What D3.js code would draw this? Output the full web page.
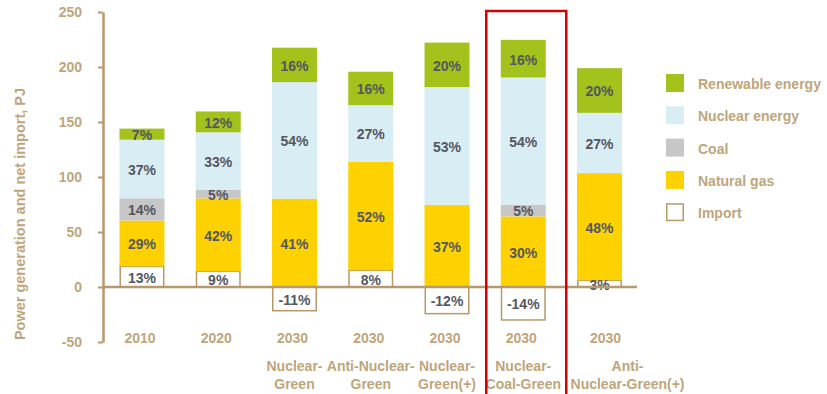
<!DOCTYPE html>
<html>
<head>
<meta charset="utf-8">
<script src="https://cdn.jsdelivr.net/npm/d3@7"></script>
<style>
  html, body { margin: 0; padding: 0; background: #fff; }
  svg { display: block; font-family: "Liberation Sans", Arial, sans-serif; font-weight: bold; }
</style>
</head>
<body>
<svg id="chart" width="827" height="394"></svg>
<script>
// Power generation mix and net import per scenario (shares of net total, %)
const years = ["2010", "2020", "2030", "2030", "2030", "2030", "2030"];
const scenarioNames = [
  [], [],
  ["Nuclear-", "Green"],
  ["Anti-Nuclear-", "Green"],
  ["Nuclear-", "Green(+)"],
  ["Nuclear-", "Coal-Green"],
  ["Anti-", "Nuclear-Green(+)"]
];
// Net total (generation + import), PJ
const totals = [144, 158, 196, 190, 202, 214, 203];
const importPct = [13, 9, -11, 8, -12, -14, 3];
const gasPct = [29, 42, 41, 52, 37, 30, 48];
const coalPct = [14, 5, 0, 0, 0, 5, 0];
const nuclearPct = [37, 33, 54, 27, 53, 54, 27];
const renewablePct = [7, 12, 16, 16, 20, 16, 20];
const yTicks = [-50, 0, 50, 100, 150, 200, 250];
const legendLabels = ["Renewable energy", "Nuclear energy", "Coal", "Natural gas", "Import"];
const highlighted = 5;

const tan = "#bfa57b";
const axisTan = "#b7996c";
const labelInk = "#54575f";
const colors = {
  renewable: "#a3c21c",
  nuclear: "#d9edf4",
  coal: "#c7c7c7",
  gas: "#fdd200",
  import: "#ffffff"
};

const svg = d3.select("#chart");
const ids = years.map((_, i) => i);

const x = d3.scaleBand().domain(ids).range([103, 638.5])
  .paddingInner(0.41).paddingOuter(0.216);
const y = d3.scaleLinear().domain([-50, 250]).range([342, 12]);

// Build stacked segments for each column
const segments = [];
ids.forEach(i => {
  const T = totals[i];
  const imp = importPct[i] * T / 100;
  segments.push({ i, key: "import", y0: Math.min(0, imp), y1: Math.max(0, imp), pct: importPct[i] });
  let base = Math.max(0, imp);
  [["gas", gasPct], ["coal", coalPct], ["nuclear", nuclearPct], ["renewable", renewablePct]].forEach(([key, arr]) => {
    const v = arr[i] * T / 100;
    segments.push({ i, key, y0: base, y1: base + v, pct: arr[i] });
    base += v;
  });
});
const drawn = segments.filter(d => d.pct !== 0);

// Bars
svg.append("g").selectAll("rect").data(drawn).join("rect")
  .attr("x", d => x(d.i) + (d.key === "import" ? 0.75 : 0))
  .attr("width", d => x.bandwidth() - (d.key === "import" ? 1.5 : 0))
  .attr("y", d => y(d.y1))
  .attr("height", d => y(d.y0) - y(d.y1))
  .attr("fill", d => colors[d.key])
  .attr("stroke", d => d.key === "import" ? axisTan : "none")
  .attr("stroke-width", 1.5);

// Segment labels
svg.append("g").selectAll("text").data(drawn).join("text")
  .attr("x", d => x(d.i) + x.bandwidth() / 2)
  .attr("y", d => (y(d.y0) + y(d.y1)) / 2 + 1)
  .attr("text-anchor", "middle")
  .attr("dominant-baseline", "central")
  .attr("font-size", 14)
  .attr("fill", labelInk)
  .text(d => d.pct + "%");

// Y axis
const yAxis = svg.append("g")
  .attr("transform", "translate(103,0)")
  .call(d3.axisLeft(y).tickValues(yTicks).tickFormat(d => String(d))
    .tickSize(5).tickSizeOuter(0).tickPadding(16));
yAxis.select(".domain").attr("stroke", axisTan).attr("stroke-width", 2.5);
yAxis.selectAll(".tick line").attr("stroke", axisTan).attr("stroke-width", 2);
yAxis.selectAll(".tick text")
  .attr("fill", tan).attr("font-size", 14).attr("font-weight", "bold")
  .attr("font-family", "Liberation Sans, Arial, sans-serif");

// Zero baseline
svg.append("line")
  .attr("x1", 103).attr("x2", 637)
  .attr("y1", y(0)).attr("y2", y(0))
  .attr("stroke", axisTan).attr("stroke-width", 2.5);

// Y axis title
svg.append("text")
  .attr("transform", "translate(20," + 214 + ") rotate(-90)")
  .attr("text-anchor", "middle")
  .attr("dominant-baseline", "central")
  .attr("font-size", 14.5)
  .attr("fill", tan)
  .text("Power generation and net import, PJ");

// Category labels
const xl = svg.append("g").selectAll("g").data(ids).join("g");
xl.append("text")
  .attr("x", i => x(i) + x.bandwidth() / 2 + (i === 6 ? 6 : -2))
  .attr("y", 343)
  .attr("text-anchor", "middle")
  .attr("font-size", 14)
  .attr("fill", tan)
  .text(i => years[i]);
xl.each(function (i) {
  const g = d3.select(this);
  scenarioNames[i].forEach((line, k) => {
    g.append("text")
      .attr("x", x(i) + x.bandwidth() / 2 + (i === 6 ? 28 : 0))
      .attr("y", 371 + k * 17.5)
      .attr("text-anchor", "middle")
      .attr("font-size", 14)
      .attr("fill", tan)
      .text(line);
  });
});

// Highlight frame around one scenario
svg.append("rect")
  .attr("x", x(highlighted) - 14.5)
  .attr("y", 11)
  .attr("width", x.bandwidth() + 35)
  .attr("height", 400)
  .attr("fill", "none")
  .attr("stroke", "#d20000")
  .attr("stroke-width", 2.5);

// Legend
const legendKeys = ["renewable", "nuclear", "coal", "gas", "import"];
const lg = svg.append("g").selectAll("g").data(legendKeys).join("g")
  .attr("transform", (d, k) => "translate(666," + (74 + k * 32.3) + ")");
lg.append("rect")
  .attr("x", d => d === "import" ? 0.75 : 0)
  .attr("y", d => d === "import" ? 0.75 : 0)
  .attr("width", d => d === "import" ? 16.5 : 18)
  .attr("height", d => d === "import" ? 16.5 : 18)
  .attr("fill", d => colors[d])
  .attr("stroke", d => d === "import" ? axisTan : "none")
  .attr("stroke-width", 1.5);
lg.append("text")
  .attr("x", 32)
  .attr("y", 10)
  .attr("dominant-baseline", "central")
  .attr("font-size", 14)
  .attr("fill", tan)
  .text((d, k) => legendLabels[k]);
</script>
</body>
</html>
